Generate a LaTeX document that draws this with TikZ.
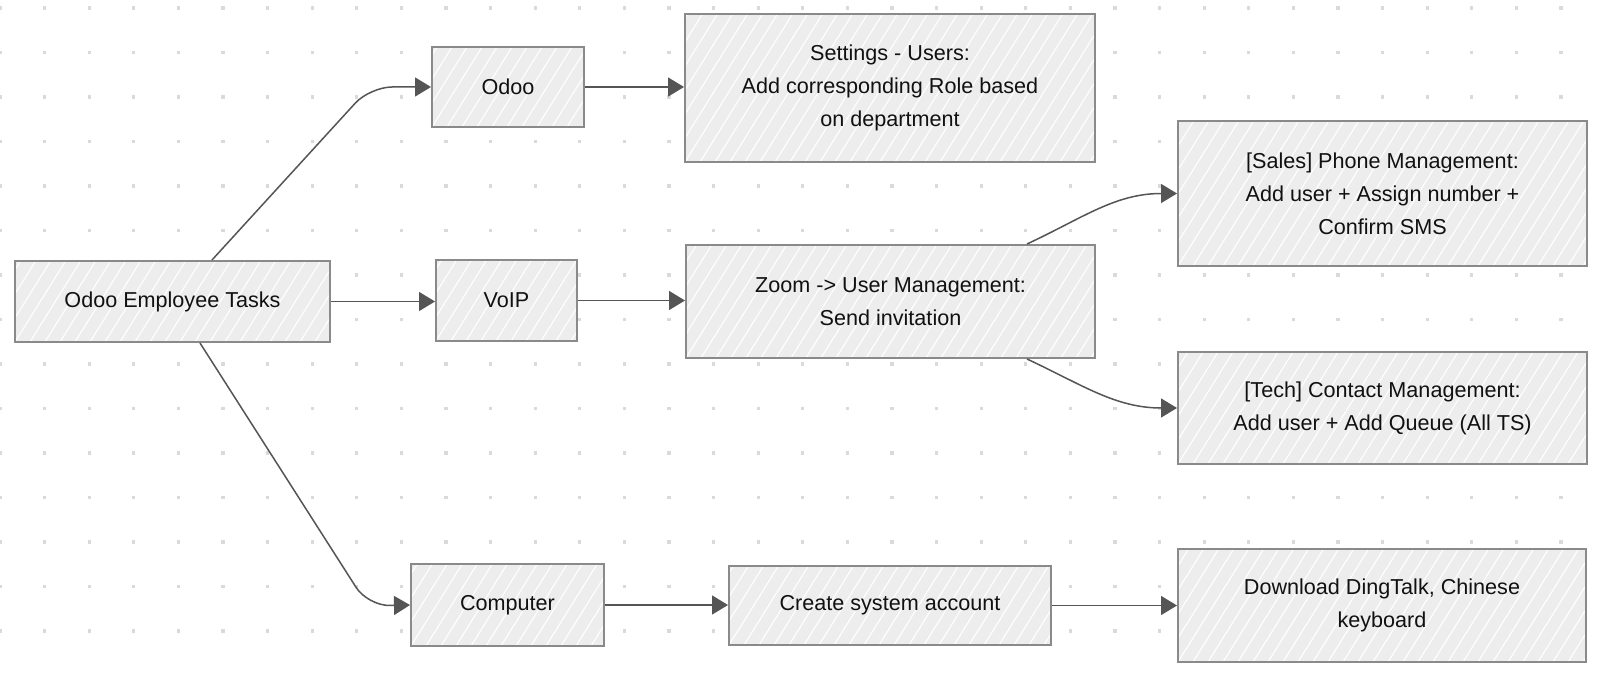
\documentclass[tikz,border=0pt]{standalone}
\usepackage{fontspec}
\setmainfont{Liberation Sans}
\usetikzlibrary{arrows.meta}
\definecolor{boxfill}{HTML}{EDEDED}
\definecolor{boxborder}{HTML}{8A8A8A}
\definecolor{arrowc}{HTML}{555555}
\definecolor{dotc}{HTML}{DADADA}
\definecolor{textc}{HTML}{111111}
\tikzset{
  box/.style={draw=boxborder, line width=1pt, fill=boxfill, align=center, inner sep=0pt,
    font=\fontsize{10.8}{16.5}\selectfont, text=textc,
    path picture={
      \foreach \k in {-8,...,30}{
        \draw[white, line width=0.55pt] ([xshift=\k*7.5pt]path picture bounding box.south west) -- ++(58:100pt);
      }
    }},
  arr/.style={draw=arrowc, line width=0.75pt, -{Triangle[length=8pt,width=9.5pt]}, fill=none},
}
\begin{document}
\begin{tikzpicture}[x=0.5pt,y=-0.5pt]
\useasboundingbox (0,0) rectangle (1600,674);
\fill[white] (0,0) rectangle (1600,674);
\foreach \i in {0,...,35}{
  \foreach \j in {0,...,14}{
    \fill[dotc] ({\i*44.6-1.6},{8+\j*44.5-1.6}) rectangle ++(3.2,3.2);
  }
}
\node[box, minimum width=157.5pt, minimum height=40.5pt] (main) at (172.5,301.5) {Odoo Employee Tasks};
\node[box, minimum width=76pt, minimum height=40pt] (odoo) at (508,87) {Odoo};
\node[box, minimum width=205pt, minimum height=74pt] (settings) at (890,88) {Settings - Users:\\Add corresponding Role based\\on department};
\node[box, minimum width=70.5pt, minimum height=40.5pt] (voip) at (506.5,300.5) {VoIP};
\node[box, minimum width=204.5pt, minimum height=56.5pt] (zoom) at (890.5,301.5) {Zoom -> User Management:\\Send invitation};
\node[box, minimum width=204.5pt, minimum height=72.5pt] (sales) at (1382.5,193.5) {[Sales] Phone Management:\\Add user + Assign number +\\Confirm SMS};
\node[box, minimum width=204.5pt, minimum height=56pt] (tech) at (1382.5,408) {[Tech] Contact Management:\\Add user + Add Queue (All TS)};
\node[box, minimum width=96.5pt, minimum height=41pt] (computer) at (507.5,605) {Computer};
\node[box, minimum width=161pt, minimum height=39.5pt] (create) at (890,605.5) {Create system account};
\node[box, minimum width=204pt, minimum height=56.5pt] (download) at (1382,605.5) {Download DingTalk, Chinese\\keyboard};

\draw[arr, rounded corners=11pt] ([xshift=19.75pt]main.north) -- ++(158,-173) -- (odoo.west);
\draw[arr] (main.east) -- (main.east -| voip.west);
\draw[arr, rounded corners=11pt] ([xshift=13.75pt]main.south) -- ++(168,263) -- (computer.west);
\draw[arr] (odoo.east) -- (odoo.east -| settings.west);
\draw[arr] (voip.east) -- (voip.east -| zoom.west);
\draw[arr] ([xshift=68.25pt]zoom.north) to[out=25, in=180] (sales.west);
\draw[arr] ([xshift=68.25pt]zoom.south) to[out=-25, in=180] (tech.west);
\draw[arr] (computer.east) -- (computer.east -| create.west);
\draw[arr] (create.east) -- (create.east -| download.west);
\end{tikzpicture}
\end{document}
